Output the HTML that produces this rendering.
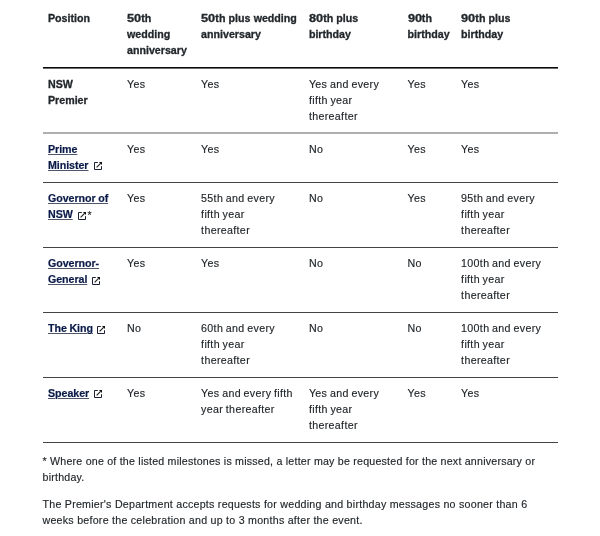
<!DOCTYPE html>
<html><head><meta charset="utf-8">
<style>
html,body{margin:0;padding:0;background:#fff;}
body{width:600px;height:536px;overflow:hidden;position:relative;font-family:"Liberation Sans",sans-serif;font-size:10.67px;line-height:16px;color:#22272b;will-change:transform;-webkit-text-stroke:0.15px currentColor;}
.c{position:absolute;white-space:nowrap;letter-spacing:0.33px;word-spacing:-0.6px;}
.h{font-weight:bold;letter-spacing:0;word-spacing:0.2px;-webkit-text-stroke:0.3px currentColor;}
i{font-style:normal;display:inline-block;transform:scaleX(1.2);transform-origin:0 0;margin-right:2.4px;}
b{letter-spacing:0;word-spacing:0.2px;-webkit-text-stroke:0.3px currentColor;}
a{color:#0a1a48;font-weight:bold;text-decoration:underline;text-underline-offset:0.8px;text-decoration-skip-ink:auto;text-decoration-color:#50566a;letter-spacing:-0.05px;word-spacing:-0.3px;-webkit-text-stroke:0.2px currentColor;}
.ic{position:absolute;display:block;}
.ln{position:absolute;left:43px;width:515px;}
.p{position:absolute;left:42.5px;white-space:nowrap;letter-spacing:0.21px;}
</style></head><body>
<div class="c h" style="left:48.0px;top:10px">Position</div>
<div class="c h" style="left:127.0px;top:10px"><i>50</i>th<br>wedding<br>anniversary</div>
<div class="c h" style="left:201.1px;top:10px"><i>50</i>th plus wedding<br>anniversary</div>
<div class="c h" style="left:308.9px;top:10px"><i>80</i>th plus<br>birthday</div>
<div class="c h" style="left:407.6px;top:10px"><i>90</i>th<br>birthday</div>
<div class="c h" style="left:461.1px;top:10px"><i>90</i>th plus<br>birthday</div>
<div class="c" style="left:48.0px;top:76px"><b>NSW<br>Premier</b></div>
<div class="c" style="left:127.0px;top:76px">Yes</div>
<div class="c" style="left:201.1px;top:76px">Yes</div>
<div class="c" style="left:308.9px;top:76px">Yes and every<br>fifth year<br>thereafter</div>
<div class="c" style="left:407.6px;top:76px">Yes</div>
<div class="c" style="left:461.1px;top:76px">Yes</div>
<div class="c" style="left:48.0px;top:141px"><a>Prime</a><br><a>Minister</a></div>
<div class="c" style="left:127.0px;top:141px">Yes</div>
<div class="c" style="left:201.1px;top:141px">Yes</div>
<div class="c" style="left:308.9px;top:141px">No</div>
<div class="c" style="left:407.6px;top:141px">Yes</div>
<div class="c" style="left:461.1px;top:141px">Yes</div>
<div class="c" style="left:48.0px;top:190.3px"><a>Governor of</a><br><a>NSW</a></div>
<div class="c" style="left:127.0px;top:190.3px">Yes</div>
<div class="c" style="left:201.1px;top:190.3px">55th and every<br>fifth year<br>thereafter</div>
<div class="c" style="left:308.9px;top:190.3px">No</div>
<div class="c" style="left:407.6px;top:190.3px">Yes</div>
<div class="c" style="left:461.1px;top:190.3px">95th and every<br>fifth year<br>thereafter</div>
<div class="c" style="left:48.0px;top:255.3px"><a>Governor-</a><br><a>General</a></div>
<div class="c" style="left:127.0px;top:255.3px">Yes</div>
<div class="c" style="left:201.1px;top:255.3px">Yes</div>
<div class="c" style="left:308.9px;top:255.3px">No</div>
<div class="c" style="left:407.6px;top:255.3px">No</div>
<div class="c" style="left:461.1px;top:255.3px">100th and every<br>fifth year<br>thereafter</div>
<div class="c" style="left:48.0px;top:320.3px"><a>The King</a></div>
<div class="c" style="left:127.0px;top:320.3px">No</div>
<div class="c" style="left:201.1px;top:320.3px">60th and every<br>fifth year<br>thereafter</div>
<div class="c" style="left:308.9px;top:320.3px">No</div>
<div class="c" style="left:407.6px;top:320.3px">No</div>
<div class="c" style="left:461.1px;top:320.3px">100th and every<br>fifth year<br>thereafter</div>
<div class="c" style="left:48.0px;top:385.3px"><a>Speaker</a></div>
<div class="c" style="left:127.0px;top:385.3px">Yes</div>
<div class="c" style="left:201.1px;top:385.3px">Yes and every fifth<br>year thereafter</div>
<div class="c" style="left:308.9px;top:385.3px">Yes and every<br>fifth year<br>thereafter</div>
<div class="c" style="left:407.6px;top:385.3px">Yes</div>
<div class="c" style="left:461.1px;top:385.3px">Yes</div>
<svg class="ic" style="left:94px;top:162px" width="9" height="9" viewBox="0 0 9 9"><path d="M3.8 .5H.5v7h7V4.2" fill="none" stroke="#1a2033" stroke-width="1"/><path d="M2.6 5.4L6.6 1.4" fill="none" stroke="#222" stroke-width="1.1"/><path d="M4.9 0H8V3.1Z" fill="#111"/></svg>
<svg class="ic" style="left:78px;top:212px" width="9" height="9" viewBox="0 0 9 9"><path d="M3.8 .5H.5v7h7V4.2" fill="none" stroke="#1a2033" stroke-width="1"/><path d="M2.6 5.4L6.6 1.4" fill="none" stroke="#222" stroke-width="1.1"/><path d="M4.9 0H8V3.1Z" fill="#111"/></svg>
<svg class="ic" style="left:92px;top:277px" width="9" height="9" viewBox="0 0 9 9"><path d="M3.8 .5H.5v7h7V4.2" fill="none" stroke="#1a2033" stroke-width="1"/><path d="M2.6 5.4L6.6 1.4" fill="none" stroke="#222" stroke-width="1.1"/><path d="M4.9 0H8V3.1Z" fill="#111"/></svg>
<svg class="ic" style="left:97px;top:326px" width="9" height="9" viewBox="0 0 9 9"><path d="M3.8 .5H.5v7h7V4.2" fill="none" stroke="#1a2033" stroke-width="1"/><path d="M2.6 5.4L6.6 1.4" fill="none" stroke="#222" stroke-width="1.1"/><path d="M4.9 0H8V3.1Z" fill="#111"/></svg>
<svg class="ic" style="left:94px;top:390px" width="9" height="9" viewBox="0 0 9 9"><path d="M3.8 .5H.5v7h7V4.2" fill="none" stroke="#1a2033" stroke-width="1"/><path d="M2.6 5.4L6.6 1.4" fill="none" stroke="#222" stroke-width="1.1"/><path d="M4.9 0H8V3.1Z" fill="#111"/></svg>
<div class="c" style="left:87.5px;top:207.3px">*</div>
<div class="ln" style="top:67px;height:1px;background:#0a0a0a"></div>
<div class="ln" style="top:68px;height:1px;background:#6a6a6a"></div>
<div class="ln" style="top:132px;height:2px;background:#afafaf"></div>
<div class="ln" style="top:182px;height:1px;background:#444"></div>
<div class="ln" style="top:247px;height:1px;background:#444"></div>
<div class="ln" style="top:312px;height:1px;background:#444"></div>
<div class="ln" style="top:377px;height:1px;background:#444"></div>
<div class="ln" style="top:442px;height:1px;background:#444"></div>
<div class="p" style="top:452.6px">* Where one of the listed milestones is missed, a letter may be requested for the next anniversary or<br>birthday.</div>
<div class="p" style="top:496.2px;letter-spacing:0.245px">The Premier's Department accepts requests for wedding and birthday messages no sooner than 6<br>weeks before the celebration and up to 3 months after the event.</div>
</body></html>
